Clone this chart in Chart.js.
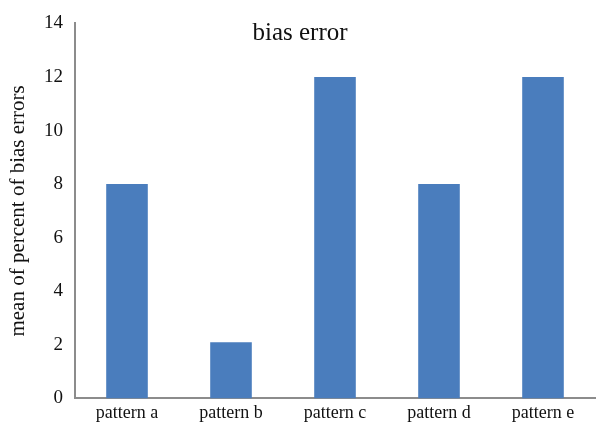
<!DOCTYPE html>
<html>
<head>
<meta charset="utf-8">
<script src="https://cdn.jsdelivr.net/npm/chart.js@4.4.0/dist/chart.umd.min.js"></script>
<style>
  html, body { margin: 0; padding: 0; background: #fff; overflow: hidden; }
  #wrap { width: 600px; height: 428px; }
</style>
</head>
<body>
<div id="wrap"><canvas id="chart"></canvas></div>
<script>
const categories = ["pattern a", "pattern b", "pattern c", "pattern d", "pattern e"];
const biasValues = [8, 2.1, 12, 8, 12];
const yTicks = [0, 2, 4, 6, 8, 10, 12, 14];

const serif = "'Liberation Serif', 'Times New Roman', serif";

// title sits inside the plot area, so draw it by hand
const innerTitle = {
  id: "innerTitle",
  afterDraw(chart) {
    const { ctx, chartArea } = chart;
    ctx.save();
    ctx.font = "25px " + serif;
    ctx.fillStyle = "#111";
    ctx.textAlign = "center";
    ctx.textBaseline = "middle";
    ctx.fillText("bias error", (chartArea.left + chartArea.right) / 2 - 35, chartArea.top + 10);
    ctx.restore();
  }
};

let ctx = document.getElementById("chart").getContext("2d");
let chart = new Chart(ctx, {
  type: "bar",
  data: {
    labels: categories,
    datasets: [
      {
        label: "bias error",
        data: biasValues,
        backgroundColor: "#4a7dbd",
        barPercentage: 0.8,
        categoryPercentage: 0.5,
      },
    ],
  },
  options: {
    responsive: true,
    maintainAspectRatio: false,
    animation: false,
    layout: { padding: { top: 23, right: 5, bottom: 0, left: 6 } },
    plugins: {
      legend: { display: false },
      tooltip: { enabled: false },
    },
    scales: {
      x: {
        grid: { display: false, drawTicks: false },
        border: { color: "#8c8c8c", width: 2 },
        ticks: { color: "#111", font: { family: serif, size: 18 }, padding: 4 },
      },
      y: {
        min: 0,
        max: 14,
        afterBuildTicks(scale) {
          scale.ticks = yTicks.map(v => ({ value: v }));
        },
        afterFit(scale) {
          scale.width = 69;
        },
        grid: { display: false, drawTicks: false },
        border: { color: "#8c8c8c", width: 2 },
        ticks: { color: "#111", font: { family: serif, size: 19 }, padding: 12 },
        title: {
          display: true,
          text: "mean of percent of bias errors",
          color: "#111",
          font: { family: serif, size: 21 },
          padding: { top: 0, bottom: 0 },
        },
      },
    },
  },
  plugins: [innerTitle],
});
</script>
</body>
</html>
